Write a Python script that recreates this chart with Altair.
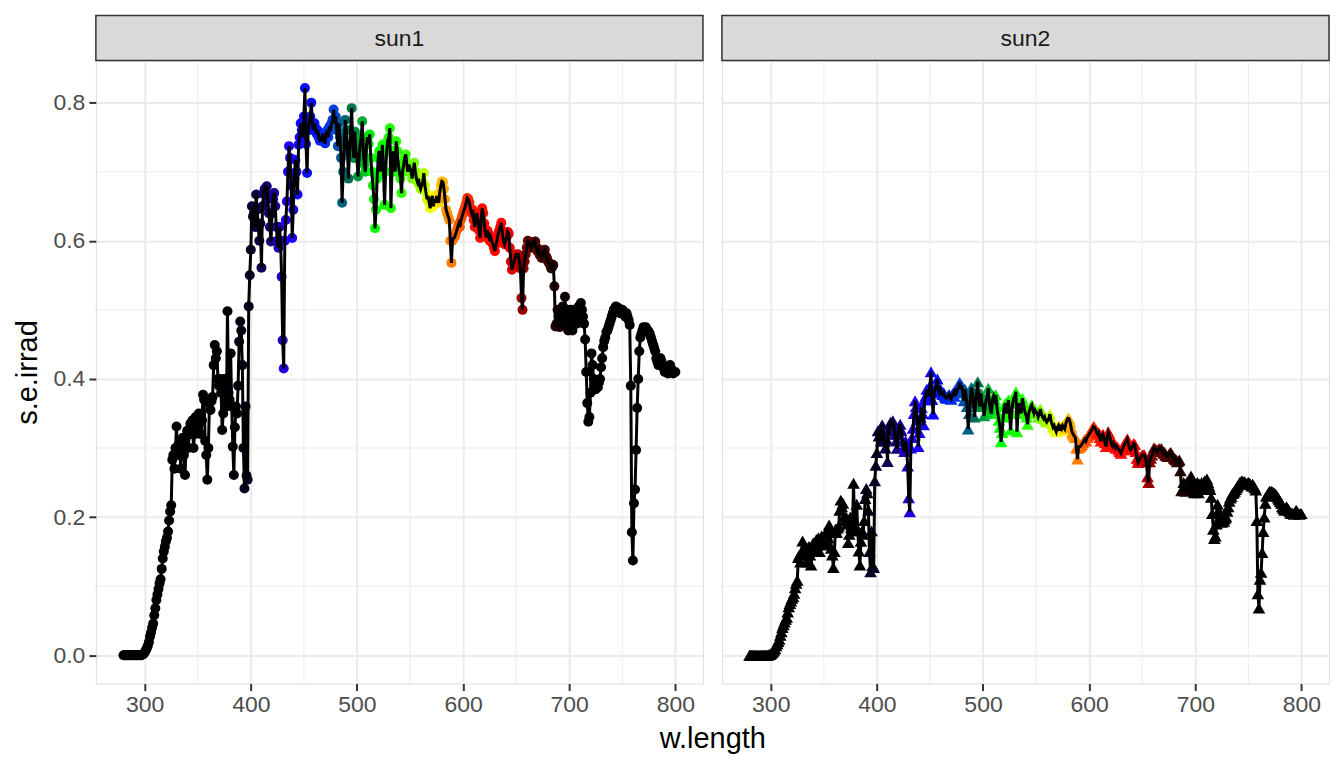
import altair as alt
import pandas as pd

# ---------------- data ----------------
w_length = list(range(280, 801))

sun1_irrad = [
    0, 0, 0, 0, 0, 0, 0, 0, 0, 0,
    0, 0, 0, 0, 0, 0, 0, 0, 0.001, 0.002,
    0.004, 0.007, 0.010, 0.014, 0.019, 0.027, 0.033, 0.040, 0.046, 0.058,
    0.068, 0.080, 0.088, 0.096, 0.104, 0.110, 0.125, 0.140, 0.150, 0.157,
    0.165, 0.170, 0.179, 0.195, 0.208, 0.217, 0.283, 0.290, 0.270, 0.300,
    0.331, 0.290, 0.305, 0.300, 0.270, 0.310, 0.315, 0.290, 0.261, 0.300,
    0.325, 0.300, 0.320, 0.335, 0.320, 0.340, 0.300, 0.320, 0.345, 0.335,
    0.330, 0.350, 0.345, 0.320, 0.340, 0.377, 0.370, 0.310, 0.290, 0.254,
    0.300, 0.365, 0.355, 0.368, 0.374, 0.420, 0.449, 0.430, 0.440, 0.400,
    0.390, 0.400, 0.380, 0.326, 0.350, 0.400, 0.370, 0.360, 0.498, 0.380,
    0.370, 0.437, 0.360, 0.302, 0.261, 0.330, 0.360, 0.350, 0.390, 0.454,
    0.483, 0.470, 0.420, 0.300, 0.2415, 0.360, 0.260, 0.254, 0.505, 0.550,
    0.587, 0.650, 0.635, 0.640, 0.620, 0.667, 0.645, 0.620, 0.600, 0.625,
    0.561, 0.650, 0.668, 0.675, 0.670, 0.679, 0.660, 0.640, 0.620, 0.599,
    0.640, 0.660, 0.669, 0.650, 0.620, 0.600, 0.590, 0.620, 0.600, 0.548,
    0.456, 0.415, 0.600, 0.630, 0.657, 0.700, 0.737, 0.720, 0.680, 0.604,
    0.645, 0.690, 0.717, 0.700, 0.667, 0.739, 0.750, 0.770, 0.760, 0.750,
    0.780, 0.821, 0.740, 0.698, 0.760, 0.770, 0.780, 0.800, 0.770, 0.760,
    0.770, 0.763, 0.755, 0.760, 0.750, 0.745, 0.745, 0.750, 0.755, 0.745,
    0.741, 0.755, 0.760, 0.750, 0.765, 0.760, 0.770, 0.775, 0.790, 0.770,
    0.780, 0.760, 0.737, 0.770, 0.750, 0.720, 0.655, 0.700, 0.740, 0.775,
    0.760, 0.730, 0.690, 0.730, 0.760, 0.792, 0.740, 0.720, 0.758, 0.730,
    0.720, 0.693, 0.720, 0.740, 0.750, 0.773, 0.730, 0.710, 0.700, 0.740,
    0.750, 0.740, 0.754, 0.720, 0.700, 0.680, 0.660, 0.618, 0.645, 0.690,
    0.720, 0.730, 0.700, 0.720, 0.739, 0.700, 0.652, 0.700, 0.730, 0.745,
    0.750, 0.763, 0.647, 0.700, 0.730, 0.720, 0.700, 0.744, 0.730, 0.710,
    0.700, 0.690, 0.669, 0.700, 0.710, 0.720, 0.725, 0.710, 0.700, 0.710,
    0.705, 0.700, 0.690, 0.700, 0.713, 0.700, 0.690, 0.685, 0.690, 0.680,
    0.675, 0.680, 0.685, 0.698, 0.680, 0.670, 0.660, 0.665, 0.655, 0.647,
    0.660, 0.665, 0.650, 0.660, 0.655, 0.665, 0.660, 0.655, 0.670, 0.680,
    0.686, 0.685, 0.675, 0.660, 0.645, 0.640, 0.635, 0.630, 0.600, 0.568,
    0.600, 0.604, 0.605, 0.610, 0.615, 0.620, 0.625, 0.620, 0.630, 0.635,
    0.640, 0.645, 0.650, 0.655, 0.662, 0.660, 0.655, 0.645, 0.640, 0.645,
    0.630, 0.620, 0.635, 0.640, 0.630, 0.615, 0.604, 0.630, 0.647, 0.640,
    0.625, 0.610, 0.605, 0.615, 0.610, 0.600, 0.605, 0.600, 0.595, 0.590,
    0.585, 0.595, 0.600, 0.610, 0.615, 0.620, 0.626, 0.610, 0.600, 0.595,
    0.600, 0.605, 0.613, 0.610, 0.590, 0.570, 0.558, 0.565, 0.570, 0.575,
    0.580, 0.580, 0.580, 0.570, 0.560, 0.517, 0.500, 0.560, 0.570, 0.580,
    0.590, 0.600, 0.598, 0.595, 0.590, 0.595, 0.598, 0.595, 0.599, 0.590,
    0.585, 0.588, 0.580, 0.578, 0.575, 0.580, 0.585, 0.587, 0.578, 0.575,
    0.570, 0.568, 0.565, 0.560, 0.562, 0.565, 0.534, 0.476, 0.480, 0.500,
    0.490, 0.475, 0.500, 0.480, 0.505, 0.490, 0.519, 0.480, 0.500, 0.470,
    0.490, 0.480, 0.500, 0.470, 0.495, 0.490, 0.500, 0.480, 0.500, 0.505,
    0.490, 0.510, 0.500, 0.490, 0.480, 0.457, 0.410, 0.365, 0.338, 0.345,
    0.380, 0.437, 0.420, 0.400, 0.390, 0.385, 0.390, 0.388, 0.395, 0.400,
    0.417, 0.430, 0.446, 0.455, 0.460, 0.468, 0.470, 0.475, 0.480, 0.485,
    0.490, 0.495, 0.500, 0.502, 0.505, 0.500, 0.503, 0.500, 0.495, 0.498,
    0.500, 0.498, 0.495, 0.490, 0.495, 0.490, 0.485, 0.478, 0.390, 0.178,
    0.137, 0.220, 0.240, 0.297, 0.358, 0.400, 0.440, 0.460, 0.465, 0.470,
    0.475, 0.473, 0.475, 0.472, 0.470, 0.468, 0.465, 0.460, 0.455, 0.450,
    0.445, 0.440, 0.430, 0.425, 0.420, 0.425, 0.430, 0.425, 0.420, 0.415,
    0.410, 0.412, 0.410, 0.408, 0.410, 0.420, 0.415, 0.410, 0.408, 0.410,
    0.410,
]

sun2_irrad = [
    0, 0, 0, 0, 0, 0, 0, 0, 0, 0,
    0, 0, 0, 0, 0, 0, 0, 0, 0.0005, 0.001,
    0.002, 0.0035, 0.005, 0.007, 0.0095, 0.0135, 0.0165, 0.02, 0.023, 0.029,
    0.034, 0.04, 0.044, 0.048, 0.052, 0.055, 0.0625, 0.07, 0.075, 0.0785,
    0.0825, 0.085, 0.0895, 0.0975, 0.104, 0.1085, 0.1415, 0.145, 0.135, 0.15,
    0.1655, 0.145, 0.1525, 0.15, 0.135, 0.155, 0.1575, 0.145, 0.1305, 0.15,
    0.1625, 0.15, 0.16, 0.1675, 0.16, 0.17, 0.15, 0.16, 0.1725, 0.1675,
    0.165, 0.175, 0.1725, 0.16, 0.17, 0.1885, 0.185, 0.155, 0.145, 0.127,
    0.15, 0.1825, 0.1775, 0.184, 0.187, 0.21, 0.2245, 0.215, 0.22, 0.2,
    0.195, 0.2, 0.19, 0.163, 0.175, 0.2, 0.185, 0.18, 0.249, 0.19,
    0.185, 0.2185, 0.18, 0.151, 0.1305, 0.165, 0.18, 0.175, 0.195, 0.227,
    0.2415, 0.235, 0.21, 0.15, 0.1208, 0.18, 0.13, 0.127, 0.2525, 0.275,
    0.2935, 0.325, 0.3175, 0.32, 0.31, 0.3335, 0.3225, 0.31, 0.3, 0.3125,
    0.2805, 0.325, 0.334, 0.3375, 0.335, 0.3395, 0.33, 0.32, 0.31, 0.2995,
    0.32, 0.33, 0.3345, 0.325, 0.31, 0.3, 0.295, 0.31, 0.3, 0.274,
    0.228, 0.2075, 0.3, 0.315, 0.3285, 0.35, 0.3685, 0.36, 0.34, 0.302,
    0.3225, 0.345, 0.3585, 0.35, 0.3335, 0.3695, 0.375, 0.385, 0.38, 0.375,
    0.39, 0.4105, 0.37, 0.349, 0.38, 0.385, 0.39, 0.4, 0.385, 0.38,
    0.385, 0.3815, 0.3775, 0.38, 0.375, 0.3725, 0.3725, 0.375, 0.3775, 0.3725,
    0.3705, 0.3775, 0.38, 0.375, 0.3825, 0.38, 0.385, 0.3875, 0.395, 0.385,
    0.39, 0.38, 0.3685, 0.385, 0.375, 0.36, 0.3275, 0.35, 0.37, 0.3875,
    0.38, 0.365, 0.345, 0.365, 0.38, 0.396, 0.37, 0.36, 0.379, 0.365,
    0.36, 0.3465, 0.36, 0.37, 0.375, 0.3865, 0.365, 0.355, 0.35, 0.37,
    0.375, 0.37, 0.377, 0.36, 0.35, 0.34, 0.33, 0.309, 0.3225, 0.345,
    0.36, 0.365, 0.35, 0.36, 0.3695, 0.35, 0.326, 0.35, 0.365, 0.3725,
    0.375, 0.3815, 0.3235, 0.35, 0.365, 0.36, 0.35, 0.372, 0.365, 0.355,
    0.35, 0.345, 0.3345, 0.35, 0.355, 0.36, 0.3625, 0.355, 0.35, 0.355,
    0.3525, 0.35, 0.345, 0.35, 0.3565, 0.35, 0.345, 0.3425, 0.345, 0.34,
    0.3375, 0.34, 0.3425, 0.349, 0.34, 0.335, 0.33, 0.3325, 0.3275, 0.3235,
    0.33, 0.3325, 0.325, 0.33, 0.3275, 0.3325, 0.33, 0.3275, 0.335, 0.34,
    0.343, 0.3425, 0.3375, 0.33, 0.3225, 0.32, 0.3175, 0.315, 0.3, 0.284,
    0.3, 0.302, 0.3025, 0.305, 0.3075, 0.31, 0.3125, 0.31, 0.315, 0.3175,
    0.32, 0.3225, 0.325, 0.3275, 0.331, 0.33, 0.3275, 0.3225, 0.32, 0.3225,
    0.315, 0.31, 0.3175, 0.32, 0.315, 0.3075, 0.302, 0.315, 0.3235, 0.32,
    0.3125, 0.305, 0.3025, 0.3075, 0.305, 0.3, 0.3025, 0.3, 0.2975, 0.295,
    0.2925, 0.2975, 0.3, 0.305, 0.3075, 0.31, 0.313, 0.305, 0.3, 0.2975,
    0.3, 0.3025, 0.3065, 0.305, 0.295, 0.285, 0.279, 0.2825, 0.285, 0.2875,
    0.29, 0.29, 0.29, 0.285, 0.28, 0.2585, 0.25, 0.28, 0.285, 0.29,
    0.295, 0.3, 0.299, 0.2975, 0.295, 0.2975, 0.299, 0.2975, 0.2995, 0.295,
    0.2925, 0.294, 0.29, 0.289, 0.2875, 0.29, 0.2925, 0.2935, 0.289, 0.2875,
    0.285, 0.284, 0.2825, 0.28, 0.281, 0.2825, 0.267, 0.238, 0.24, 0.25,
    0.245, 0.2375, 0.25, 0.24, 0.2525, 0.245, 0.2595, 0.24, 0.25, 0.235,
    0.245, 0.24, 0.25, 0.235, 0.2475, 0.245, 0.25, 0.24, 0.25, 0.2525,
    0.245, 0.255, 0.25, 0.245, 0.24, 0.2285, 0.205, 0.1825, 0.169, 0.1725,
    0.19, 0.2185, 0.21, 0.2, 0.195, 0.1925, 0.195, 0.194, 0.1975, 0.2,
    0.2085, 0.215, 0.223, 0.2275, 0.23, 0.234, 0.235, 0.2375, 0.24, 0.2425,
    0.245, 0.2475, 0.25, 0.251, 0.2525, 0.25, 0.2515, 0.25, 0.2475, 0.249,
    0.25, 0.249, 0.2475, 0.245, 0.2475, 0.245, 0.2425, 0.239, 0.195, 0.089,
    0.0685, 0.11, 0.12, 0.1485, 0.179, 0.2, 0.22, 0.23, 0.2325, 0.235,
    0.2375, 0.2365, 0.2375, 0.236, 0.235, 0.234, 0.2325, 0.23, 0.2275, 0.225,
    0.2225, 0.22, 0.215, 0.2125, 0.21, 0.2125, 0.215, 0.2125, 0.21, 0.2075,
    0.205, 0.206, 0.205, 0.204, 0.205, 0.21, 0.2075, 0.205, 0.204, 0.205,
    0.205,
]

panels = ["sun1", "sun2"]
x_ticks = [300, 400, 500, 600, 700, 800]
x_minor = [350, 450, 550, 650, 750]
y_ticks = [0.0, 0.2, 0.4, 0.6, 0.8]
y_minor = [0.1, 0.3, 0.5, 0.7]

# wavelength -> displayed colour (visible-light palette)
color_nm = [280, 380, 400, 420, 435, 460, 478, 486, 494, 505, 515, 545,
            560, 572, 578, 585, 595, 610, 640, 652, 660, 680, 700, 800]
color_hex = ["#000000", "#000000", "#0a0030", "#1a0080", "#2000ff", "#0010ff",
             "#0040e0", "#006080", "#007050", "#00b030", "#00ff00", "#30ff00",
             "#a0ff00", "#ffff00", "#ffd000", "#ff9000", "#ff6000", "#ff1000",
             "#ff0000", "#c00000", "#700000", "#400000", "#000000", "#000000"]

FONT = "Liberation Sans"
PW, PH, SH = 608, 624, 45

x_scale = alt.Scale(domain=[254, 826], nice=False, zero=False)
y_scale = alt.Scale(domain=[-0.041, 0.861], nice=False, zero=False)
c_scale = alt.Scale(domain=color_nm, range=color_hex, interpolate="rgb", clamp=True)


def panel(name, values, shape, size, first):
    df = pd.DataFrame({"wl": w_length, "irrad": values})
    x_axis = alt.Axis(values=x_ticks, grid=True, gridColor="#EBEBEB", gridWidth=2,
                      domain=False, ticks=True, tickColor="#333333", tickWidth=2,
                      tickSize=7, labelFontSize=23, labelColor="#4D4D4D",
                      labelPadding=3, labelFont=FONT, title=None)
    if first:
        y_axis = alt.Axis(values=y_ticks, format=".1f", grid=True, gridColor="#EBEBEB",
                          gridWidth=2, domain=False, tickColor="#333333", tickWidth=2,
                          tickSize=7, labelFontSize=23, labelColor="#4D4D4D",
                          labelPadding=4, labelFont=FONT, title="s.e.irrad",
                          titleFontSize=29, titleColor="black", titleFontWeight="normal",
                          titleFont=FONT, titlePadding=10)
    else:
        y_axis = alt.Axis(values=y_ticks, grid=True, gridColor="#EBEBEB", gridWidth=2,
                          domain=False, ticks=False, labels=False, title=None)

    base = alt.Chart(df)
    minor_x = alt.Chart(pd.DataFrame({"v": x_minor})).mark_rule(
        color="#EBEBEB", strokeWidth=1).encode(x=alt.X("v:Q", scale=x_scale, axis=x_axis))
    minor_y = alt.Chart(pd.DataFrame({"v": y_minor})).mark_rule(
        color="#EBEBEB", strokeWidth=1).encode(y=alt.Y("v:Q", scale=y_scale, axis=y_axis))
    pts = base.mark_point(filled=True, shape=shape, size=size, opacity=1).encode(
        x=alt.X("wl:Q", scale=x_scale, axis=x_axis),
        y=alt.Y("irrad:Q", scale=y_scale, axis=y_axis),
        color=alt.Color("wl:Q", scale=c_scale, legend=None),
    )
    line = base.mark_line(color="black", strokeWidth=3).encode(
        x=alt.X("wl:Q", scale=x_scale, axis=x_axis),
        y=alt.Y("irrad:Q", scale=y_scale, axis=y_axis),
    )
    sdf = pd.DataFrame({"panel": [name]})
    strip_bg = alt.Chart(sdf).mark_rect(fill="#D9D9D9", stroke="#333333",
                                        strokeWidth=1.5).encode(
        x=alt.value(0), x2=alt.value(PW), y=alt.value(-SH), y2=alt.value(0))
    strip_txt = alt.Chart(sdf).mark_text(fontSize=23, font=FONT, color="#1A1A1A",
                                         baseline="middle", align="center").encode(
        text="panel:N", x=alt.value(PW / 2), y=alt.value(-SH / 2 + 1))
    return alt.layer(minor_x, minor_y, pts, line, strip_bg, strip_txt).properties(
        width=PW, height=PH)


chart = alt.hconcat(
    panel(panels[0], sun1_irrad, "circle", 100, True),
    panel(panels[1], sun2_irrad, "triangle-up", 160, False),
    spacing=15,
).properties(
    title=alt.TitleParams("w.length", orient="bottom", anchor="middle", fontSize=29,
                          font=FONT, fontWeight="normal", color="black", dx=41, offset=8),
    padding={"left": 5, "top": 5, "right": 5, "bottom": 5},
).configure_view(
    stroke="#333333", strokeWidth=1.5
).configure(background="white")

chart.save("out.html", embed_options={"renderer": "svg", "actions": False})
